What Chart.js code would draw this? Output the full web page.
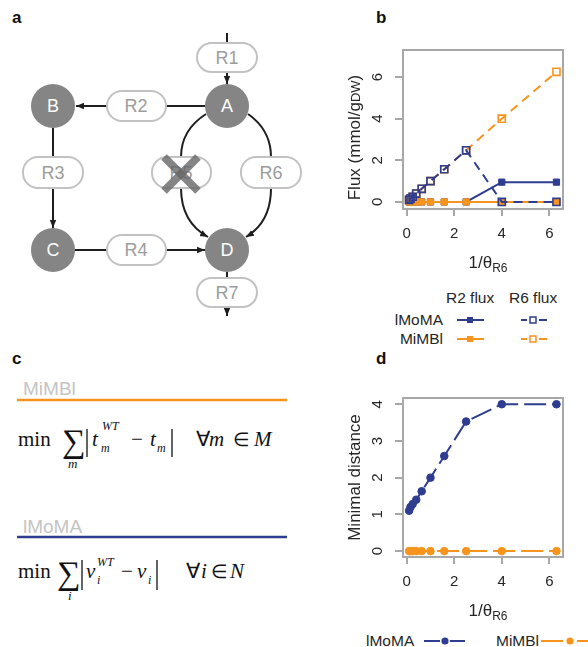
<!DOCTYPE html>
<html>
<head>
<meta charset="utf-8">
<script src="https://cdn.jsdelivr.net/npm/chart.js@4/dist/chart.umd.min.js"></script>
<style>
  body { margin: 0; background: #fff; }
  #page { position: relative; width: 588px; height: 647px; overflow: hidden; font-family: "Liberation Sans", Arial, sans-serif; }
  #page svg, #page canvas { position: absolute; }
</style>
</head>
<body>
<div id="page">
<svg width="588" height="647" style="left:0;top:0" font-family="Liberation Sans, Arial, sans-serif">
  <defs>
    <marker id="ah" viewBox="0 0 10 10" refX="10" refY="5" markerWidth="8" markerHeight="8" markerUnits="userSpaceOnUse" orient="auto">
      <path d="M0,1 L10,5 L0,9 z" fill="#1e1e1e"/>
    </marker>
  </defs>

  <!-- panel labels -->
  <g font-weight="bold" font-size="17" fill="#111">
    <text x="12" y="23">a</text>
    <text x="376" y="23">b</text>
    <text x="12" y="364">c</text>
    <text x="376" y="364">d</text>
  </g>

  <!-- panel a : network -->
  <g stroke="#1e1e1e" stroke-width="2" fill="none">
    <path d="M227,33 V43"/>
    <path d="M227,72 V84" marker-end="url(#ah)"/>
    <path d="M205,106 H166"/>
    <path d="M107,106 H76" marker-end="url(#ah)"/>
    <path d="M53,128 V157"/>
    <path d="M53,188 V228" marker-end="url(#ah)"/>
    <path d="M75,250 H107"/>
    <path d="M166,250 H205" marker-end="url(#ah)"/>
    <path d="M227,272 V278"/>
    <path d="M227,307 V316" marker-end="url(#ah)"/>
    <path d="M206,114 Q181,130 181,157"/>
    <path d="M181,188 Q181,222 208,237" marker-end="url(#ah)"/>
    <path d="M248,114 Q271,130 271,157"/>
    <path d="M271,188 Q271,222 246,237" marker-end="url(#ah)"/>
  </g>
  <g fill="#858585">
    <circle cx="227" cy="106" r="22"/>
    <circle cx="53" cy="106" r="22"/>
    <circle cx="53" cy="250" r="22"/>
    <circle cx="227" cy="250" r="22"/>
  </g>
  <g fill="#fff" font-size="18" text-anchor="middle">
    <text x="227" y="112">A</text>
    <text x="53" y="112">B</text>
    <text x="53" y="256">C</text>
    <text x="227" y="256">D</text>
  </g>
  <g fill="#fff" stroke="#c2c2c2" stroke-width="2">
    <rect x="197" y="43" width="60" height="29" rx="14.5"/>
    <rect x="107" y="91" width="59" height="30" rx="15"/>
    <rect x="23" y="157" width="60" height="31" rx="15"/>
    <rect x="152" y="157" width="59" height="31" rx="15"/>
    <rect x="241" y="157" width="60" height="31" rx="15"/>
    <rect x="107" y="235" width="59" height="30" rx="15"/>
    <rect x="197" y="278" width="60" height="29" rx="14.5"/>
  </g>
  <g fill="#9c9c9c" font-size="18" text-anchor="middle">
    <text x="227" y="64">R1</text>
    <text x="136" y="112">R2</text>
    <text x="53" y="179">R3</text>
    <text x="181" y="179">R5</text>
    <text x="271" y="179">R6</text>
    <text x="136" y="256">R4</text>
    <text x="227" y="299">R7</text>
  </g>
  <g stroke="#666" stroke-opacity="0.8" stroke-width="8">
    <path d="M164,157 L198,191"/>
    <path d="M198,157 L164,191"/>
  </g>

  <!-- panel c : objectives -->
  <text x="23" y="395" font-size="19" fill="#c4c4c4">MiMBl</text>
  <path d="M17,400 H287" stroke="#f7941e" stroke-width="2.5"/>
  <g font-family="Liberation Serif, Times New Roman, serif" fill="#111">
    <text x="18" y="446" font-size="21">min</text>
    <text x="62" y="452" font-size="33">∑</text>
    <text x="68" y="468" font-size="13" font-style="italic">m</text>
    <text x="92" y="446" font-size="21" font-style="italic">t</text>
    <text x="102" y="430" font-size="12" font-style="italic">WT</text>
    <text x="101" y="452" font-size="12" font-style="italic">m</text>
    <text x="131" y="446" font-size="21">−</text>
    <text x="150" y="446" font-size="21" font-style="italic">t</text>
    <text x="157" y="452" font-size="12" font-style="italic">m</text>
    <text x="196" y="446" font-size="21">∀</text>
    <text x="209" y="446" font-size="21" font-style="italic">m</text>
    <text x="233" y="446" font-size="19">∈</text>
    <text x="254" y="446" font-size="21" font-style="italic">M</text>

    <text x="18" y="578" font-size="21">min</text>
    <text x="57" y="584" font-size="33">∑</text>
    <text x="68" y="600" font-size="13" font-style="italic">i</text>
    <text x="86" y="578" font-size="21" font-style="italic">v</text>
    <text x="97" y="566" font-size="12" font-style="italic">WT</text>
    <text x="97" y="584" font-size="12" font-style="italic">i</text>
    <text x="121" y="578" font-size="21">−</text>
    <text x="137" y="578" font-size="21" font-style="italic">v</text>
    <text x="148" y="584" font-size="12" font-style="italic">i</text>
    <text x="186" y="578" font-size="21">∀</text>
    <text x="201" y="578" font-size="21" font-style="italic">i</text>
    <text x="211" y="578" font-size="19">∈</text>
    <text x="230" y="578" font-size="21" font-style="italic">N</text>
  </g>
  <g stroke="#111" stroke-width="1.3">
    <path d="M87,429 V457"/>
    <path d="M172,429 V457"/>
    <path d="M82,560 V590"/>
    <path d="M157,560 V590"/>
  </g>
  <text x="23" y="533" font-size="19" fill="#c4c4c4">lMoMA</text>
  <path d="M17,537 H287" stroke="#2e3d8f" stroke-width="2.5"/>

  <!-- legend b -->
  <g font-size="15.5" fill="#262626">
    <text x="446" y="303">R2 flux</text>
    <text x="509" y="303">R6 flux</text>
    <text x="443" y="325" text-anchor="end">lMoMA</text>
    <text x="443" y="344" text-anchor="end">MiMBl</text>
  </g>
  <g stroke-width="2">
    <path d="M457,320 H484" stroke="#2e3d8f"/>
    <rect x="467" y="317" width="6" height="6" fill="#2e3d8f"/>
    <path d="M521,320 H527 M539,320 H547" stroke="#2e3d8f"/>
    <rect x="530" y="317" width="6" height="6" fill="none" stroke="#2e3d8f" stroke-width="1.5"/>
    <path d="M457,339 H484" stroke="#f7941e"/>
    <rect x="467" y="336" width="6" height="6" fill="#f7941e"/>
    <path d="M521,339 H527 M539,339 H547" stroke="#f7941e"/>
    <rect x="530" y="336" width="6" height="6" fill="none" stroke="#f7941e" stroke-width="1.5"/>
  </g>

  <!-- legend d -->
  <g font-size="15.5" fill="#262626">
    <text x="366" y="646">lMoMA</text>
    <text x="496" y="646">MiMBl</text>
  </g>
  <g stroke-width="2">
    <path d="M424,641 H440 M450,641 H465" stroke="#2e3d8f"/>
    <circle cx="445" cy="641" r="3.6" fill="#2e3d8f"/>
    <path d="M541,641 H563 M577,641 H588" stroke="#f7941e"/>
    <circle cx="570" cy="641" r="3.6" fill="#f7941e"/>
  </g>
</svg>
<canvas id="fluxChart" width="258" height="240" style="left:330px;top:40px"></canvas>
<canvas id="distChart" width="258" height="240" style="left:330px;top:388px"></canvas>
</div>

<script>
// valeurs
const invTheta = [0.1, 0.16, 0.25, 0.4, 0.63, 1, 1.58, 2.5, 4, 6.3];
const r2FluxLmoma = [0, 0, 0, 0, 0, 0, 0, 0, 0.95, 0.95];
const r2FluxMimbl = [0, 0, 0, 0, 0, 0, 0, 0, 0, 0];
const r6FluxLmoma = [0.1, 0.16, 0.25, 0.4, 0.63, 1, 1.57, 2.48, 0, 0];
const r6FluxMimbl = [0.1, 0.16, 0.25, 0.4, 0.63, 1, 1.57, 2.48, 4, 6.25];
const distLmoma = [1.1, 1.2, 1.28, 1.4, 1.63, 2.0, 2.59, 3.53, 4.0, 4.0];
const distMimbl = [0, 0, 0, 0, 0, 0, 0, 0, 0, 0];
const xTicks = [0, 2, 4, 6];
const fluxTicks = [0, 2, 4, 6];
const distTicks = [0, 1, 2, 3, 4];

const BLUE = '#2e3d8f';
const ORANGE = '#f7941e';
const FRAME = '#a8a8a8';
const INK = '#262626';
const SANS = '"Liberation Sans", Arial, sans-serif';

function pts(ys) {
  return invTheta.map((x, i) => ({ x: x, y: ys[i] }));
}

// texte en plusieurs morceaux (indices), éventuellement tourné
function drawPieces(ctx, pieces, cx, cy, angle) {
  ctx.save();
  ctx.translate(cx, cy);
  ctx.rotate(angle);
  ctx.fillStyle = INK;
  ctx.textAlign = 'left';
  ctx.textBaseline = 'alphabetic';
  let total = 0;
  pieces.forEach(p => {
    ctx.font = p[1] + 'px ' + SANS;
    total += ctx.measureText(p[0]).width;
  });
  let x = -total / 2;
  pieces.forEach(p => {
    ctx.font = p[1] + 'px ' + SANS;
    ctx.fillText(p[0], x, 6 + p[2]);
    x += ctx.measureText(p[0]).width;
  });
  ctx.restore();
}

// cadre façon R, étiquettes y tournées, titres d'axes
const rFrame = {
  id: 'rFrame',
  afterDraw(chart, args, opts) {
    const ctx = chart.ctx;
    const a = chart.chartArea;
    const y = chart.scales.y;
    ctx.save();
    ctx.strokeStyle = FRAME;
    ctx.lineWidth = 2;
    ctx.strokeRect(a.left, a.top, a.right - a.left, a.bottom - a.top);
    ctx.fillStyle = INK;
    ctx.font = '15px ' + SANS;
    ctx.textAlign = 'center';
    ctx.textBaseline = 'middle';
    opts.yTicks.forEach(v => {
      ctx.save();
      ctx.translate(a.left - 25, y.getPixelForValue(v));
      ctx.rotate(-Math.PI / 2);
      ctx.fillText(String(v), 0, 0);
      ctx.restore();
    });
    ctx.restore();
    drawPieces(ctx, [['1/θ', 17, 0], ['R6', 12, 4]], (a.left + a.right) / 2 + 5, a.bottom + 53, 0);
    drawPieces(ctx, opts.yTitle, a.left - 49, (a.top + a.bottom) / 2 + opts.yShift, -Math.PI / 2);
  }
};

function makeChart(id, datasets, yMin, yMax, yTicks, yTitle, yShift) {
  const ctx = document.getElementById(id).getContext('2d');
  return new Chart(ctx, {
    type: 'line',
    data: { datasets: datasets },
    options: {
      responsive: false,
      animation: false,
      layout: { padding: { top: 10, right: 25, left: 0, bottom: 0 } },
      plugins: {
        legend: { display: false },
        tooltip: { enabled: false },
        rFrame: { yTicks: yTicks, yTitle: yTitle, yShift: yShift }
      },
      scales: {
        x: {
          type: 'linear',
          min: -0.156,
          max: 6.575,
          afterBuildTicks: s => { s.ticks = xTicks.map(v => ({ value: v })); },
          afterFit: s => { s.height = 71; },
          grid: { drawOnChartArea: false, drawTicks: true, tickLength: 7, color: FRAME, lineWidth: 2 },
          border: { display: false },
          ticks: { color: INK, font: { size: 15, family: SANS }, padding: 9, maxRotation: 0 }
        },
        y: {
          type: 'linear',
          min: yMin,
          max: yMax,
          afterBuildTicks: s => { s.ticks = yTicks.map(v => ({ value: v })); },
          afterFit: s => { s.width = 73; },
          grid: { drawOnChartArea: false, drawTicks: true, tickLength: 8, color: FRAME, lineWidth: 2 },
          border: { display: false },
          ticks: { display: false }
        }
      }
    },
    plugins: [rFrame]
  });
}

// Graphique b : flux (index 0 dessiné au-dessus)
makeChart('fluxChart', [
  {
    data: pts(r6FluxLmoma), borderColor: BLUE, borderWidth: 2, borderDash: [9, 6],
    pointStyle: 'rect', pointRadius: 5, pointBorderWidth: 1.6,
    pointBorderColor: BLUE, pointBackgroundColor: 'rgba(0,0,0,0)', clip: false
  },
  {
    data: pts(r6FluxMimbl), borderColor: ORANGE, borderWidth: 2, borderDash: [9, 6],
    pointStyle: 'rect', pointRadius: 5, pointBorderWidth: 1.6,
    pointBorderColor: ORANGE, pointBackgroundColor: 'rgba(0,0,0,0)', clip: false
  },
  {
    data: pts(r2FluxMimbl), borderColor: ORANGE, borderWidth: 2,
    pointStyle: 'rect', pointRadius: 4.4, pointBorderWidth: 1,
    pointBorderColor: ORANGE, pointBackgroundColor: ORANGE, clip: false
  },
  {
    data: pts(r2FluxLmoma), borderColor: BLUE, borderWidth: 2,
    pointStyle: 'rect', pointRadius: 4.4, pointBorderWidth: 1,
    pointBorderColor: BLUE, pointBackgroundColor: BLUE, clip: false
  }
], -0.34, 7.3, fluxTicks, [['Flux (mmol/g', 17, 0], ['DW', 13, 0], [')', 17, 0]], 8);

// Graphique d : distance minimale
makeChart('distChart', [
  {
    data: pts(distMimbl), borderColor: ORANGE, borderWidth: 2, borderDash: [22, 6],
    pointStyle: 'circle', pointRadius: 3.8, pointBorderWidth: 1,
    pointBorderColor: ORANGE, pointBackgroundColor: ORANGE, clip: false
  },
  {
    data: pts(distLmoma), borderColor: BLUE, borderWidth: 2, borderDash: [22, 6],
    pointStyle: 'circle', pointRadius: 3.8, pointBorderWidth: 1,
    pointBorderColor: BLUE, pointBackgroundColor: BLUE, clip: false
  }
], -0.16, 4.17, distTicks, [['Minimal distance', 17, 0]], 0);
</script>
</body>
</html>
